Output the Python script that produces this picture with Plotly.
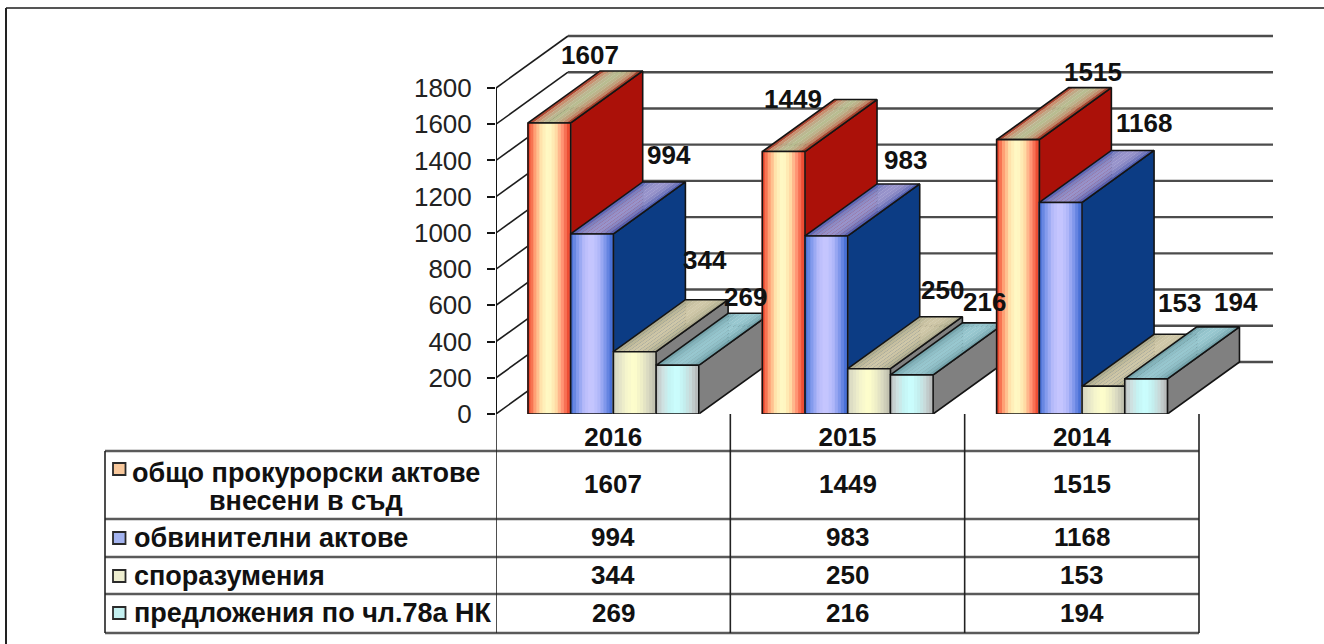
import plotly.graph_objects as go
from plotly.colors import sample_colorscale

W, H = 1324, 644

years = ["2016", "2015", "2014"]
series_names = [
    "общо прокурорски актове<br>внесени в съд",
    "обвинителни актове",
    "споразумения",
    "предложения по чл.78а НК",
]
obshto = [1607, 1449, 1515]
obvinitelni = [994, 983, 1168]
sporazumenia = [344, 250, 153]
predlozhenia = [269, 216, 194]
series_values = [obshto, obvinitelni, sporazumenia, predlozhenia]
y_ticks = [0, 200, 400, 600, 800, 1000, 1200, 1400, 1600, 1800]

# front plane in pixels, axes run on past it so the 3d depth is not clipped
LEFT, RIGHT, BOTTOM, TOP = 496, 1199, 414, 88
X_UNIT = (RIGHT - LEFT) / 3
Y_UNIT = (BOTTOM - TOP) / 1800
DEPTH_X = 72 / X_UNIT
DEPTH_Y = 52 / Y_UNIT
GAP = 32 / X_UNIT
BAR_W = 42.7 / X_UNIT
GRID_END = (1273 - LEFT) / X_UNIT
X_MAX = 3.4
Y_MAX = 2200

front_stops = [
    ["#e8301c", "#ff9a70", "#ffe8b0", "#fffcc8", "#ffe0a8", "#ff8e70", "#e83c24"],
    ["#3c68d0", "#8098ec", "#b8bcfa", "#c8c8ff", "#b4bafa", "#7c94ea", "#3c68d0"],
    ["#d0d0bc", "#e4e4c8", "#f6f6cc", "#ffffcc", "#f0f0c8", "#d8d8c0", "#bcbcac"],
    ["#b8b8b8", "#cfe0e0", "#c4f4f4", "#ccffff", "#c4f0f0", "#c8d8d8", "#b4b4b4"],
]
top_stops = [
    ["#a02414", "#c89070", "#bcb490", "#b8bc90", "#bcb088", "#c08868", "#94200f"],
    ["#4c5cb4", "#7c80c0", "#9490c8", "#9894cc", "#9490c8", "#7478bc", "#4454ac"],
    ["#a8a488", "#bcb898", "#ccc4a4", "#d0c8a8", "#ccc4a4", "#bcb898", "#a8a488"],
    ["#6c9ca4", "#84b4bc", "#94c4cc", "#98c8d0", "#94c4cc", "#84b4bc", "#6c9ca4"],
]
side_colors = ["#ab1109", "#0c3c84", "#808080", "#808080"]
key_colors = ["#f8c89c", "#a4b4f0", "#eeeed0", "#c4f0f0"]

# pixel offsets of the value labels from the bar's top left corner
label_dx = [[62, 98, 92, 89], [31, 100, 95, 94], [96, 105, 97, 111]]
label_dy = [[68, 79, 92, 68], [53, 76, 79, 73], [68, 79, 83, 77]]

FRONT_STRIPS = 14
TOP_STRIPS = 9
EDGE = "#141414"
LABEL_FONT = dict(family="Liberation Sans", size=26, color="#111111", weight="bold")
NAME_FONT = dict(family="Liberation Sans", size=27, color="#111111", weight="bold")


def strip_colors(stops, n):
    scale = [[i / (len(stops) - 1), c] for i, c in enumerate(stops)]
    return sample_colorscale(scale, [(i + 0.5) / n for i in range(n)])


def px_x(v):
    return v / W


def px_y(v):
    return 1 - v / H


def poly(xs, ys, color=None, line=None, z=0):
    fig.add_trace(go.Scatter(
        x=xs, y=ys, mode="lines", fill="toself" if color else None,
        fillcolor=color,
        line=dict(color=line or "rgba(0,0,0,0)", width=1.6 if line else 0),
        hoverinfo="skip", zorder=z,
    ))


fig = go.Figure()

# back wall gridlines with the diagonals on the side wall
for tick in y_ticks:
    fig.add_trace(go.Scatter(
        x=[0, DEPTH_X], y=[tick, tick + DEPTH_Y], mode="lines",
        line=dict(color="#1c1c1c", width=1.6),
        cliponaxis=False, hoverinfo="skip",
    ))
    fig.add_trace(go.Scatter(
        x=[DEPTH_X, GRID_END], y=[tick + DEPTH_Y, tick + DEPTH_Y], mode="lines",
        line=dict(color="#4c4c4c", width=2.4),
        cliponaxis=False, hoverinfo="skip",
    ))

for c, year in enumerate(years):
    for s, values in enumerate(series_values):
        v = values[c]
        x0 = c + GAP + s * BAR_W
        x1 = x0 + BAR_W
        z = 10 + (c * 4 + s) * 2

        # side face
        poly([x1, x1 + DEPTH_X, x1 + DEPTH_X, x1, x1],
             [v, v + DEPTH_Y, DEPTH_Y, 0, v], side_colors[s], EDGE, z)

        # top face, one strip per gradient step
        top_cols = strip_colors(top_stops[s], TOP_STRIPS)
        step = BAR_W / TOP_STRIPS
        for i, col in enumerate(top_cols):
            a = x0 + i * step
            b = a + step * 1.05
            poly([a, b, b + DEPTH_X, a + DEPTH_X, a],
                 [v, v, v + DEPTH_Y, v + DEPTH_Y, v], col, None, z)
        poly([x0, x1, x1 + DEPTH_X, x0 + DEPTH_X, x0],
             [v, v, v + DEPTH_Y, v + DEPTH_Y, v], None, EDGE, z)

        # front face, thin bars give the gradient
        step = BAR_W / FRONT_STRIPS
        fig.add_trace(go.Bar(
            x=[x0 + (i + 0.5) * step for i in range(FRONT_STRIPS)],
            y=[v] * FRONT_STRIPS,
            width=step * 1.5,
            marker=dict(color=strip_colors(front_stops[s], FRONT_STRIPS), line_width=0),
            hoverinfo="skip", zorder=z + 1,
        ))
        fig.add_trace(go.Bar(
            x=[x0 + BAR_W / 2], y=[v], width=BAR_W,
            marker=dict(color="rgba(0,0,0,0)", line=dict(color=EDGE, width=1.6)),
            hoverinfo="skip", zorder=z + 1,
        ))

        fig.add_annotation(
            x=x0, y=v, xref="x", yref="y", text=str(v), showarrow=False,
            xshift=label_dx[c][s], yshift=label_dy[c][s], font=LABEL_FONT,
        )

shapes = []


def add_line(x0, y0, x1, y1, color="#5a5a5a", width=2.4, xref="paper"):
    shapes.append(dict(type="line", xref=xref, yref="paper", x0=x0, x1=x1,
                       y0=px_y(y0), y1=px_y(y1), line=dict(color=color, width=width)))


# value axis line, stops at the last tick
shapes.append(dict(type="line", xref="x", yref="y", x0=0, x1=0, y0=0, y1=y_ticks[-1],
                   line=dict(color="#141414", width=2)))

# outer frame
add_line(px_x(6), 8, px_x(1324), 8, "#555555", 2)
add_line(px_x(6), 8, px_x(6), 644, "#222222", 2)

# data table grid
row_lines = [451, 519, 557, 594, 633]
for ry in row_lines:
    add_line(px_x(105), ry, px_x(RIGHT), ry)
add_line(px_x(105), 451, px_x(105), 633, "#222222", 1.6)
for i in range(4):
    add_line(i, 414, i, 633, "#222222", 1.6, xref="x")

row_centers = [484, 537, 575, 613]
name_centers = [[473, 501], [538], [576], [613]]
key_centers = [469, 538, 576, 613]
for s, name in enumerate(series_names):
    # the first name has two lines, set closer than a plotly line break would
    for part, cy in zip(name.split("<br>"), name_centers[s]):
        fig.add_annotation(
            x=px_x(306 if s == 0 else 132), y=px_y(cy), xref="paper", yref="paper",
            text=part, showarrow=False, align="center" if s == 0 else "left",
            xanchor="center" if s == 0 else "left", yanchor="middle", font=NAME_FONT,
        )
    shapes.append(dict(
        type="rect", xref="paper", yref="paper",
        x0=px_x(113), x1=px_x(125.5),
        y0=px_y(key_centers[s] + 6), y1=px_y(key_centers[s] - 6),
        fillcolor=key_colors[s], line=dict(color="#2a2a2a", width=1.8),
    ))
    for c in range(3):
        fig.add_annotation(
            x=c + 0.5, y=px_y(row_centers[s]), xref="x", yref="paper",
            text=str(series_values[s][c]), showarrow=False, yanchor="middle", font=LABEL_FONT,
        )

fig.update_layout(
    width=W, height=H, autosize=False,
    margin=dict(l=0, r=0, t=0, b=0),
    paper_bgcolor="white", plot_bgcolor="rgba(0,0,0,0)",
    showlegend=False, barmode="overlay",
    font=dict(family="Liberation Sans", color="#111111"),
    shapes=shapes,
    xaxis=dict(
        domain=[LEFT / W, (LEFT + X_MAX * X_UNIT) / W], range=[0, X_MAX], automargin=False,
        showgrid=False, zeroline=False, showline=False,
        tickvals=[0.5, 1.5, 2.5], ticktext=years, ticks="",
        ticklabelstandoff=5, fixedrange=True, tickfont=LABEL_FONT,
    ),
    yaxis=dict(
        domain=[1 - BOTTOM / H, 1 - (BOTTOM - Y_MAX * Y_UNIT) / H], range=[0, Y_MAX],
        automargin=False, showgrid=False, zeroline=False, showline=False,
        tickvals=y_ticks, ticks="outside", ticklen=8, tickcolor="#141414", tickwidth=1.6,
        ticklabelstandoff=10, fixedrange=True,
        tickfont=dict(family="Liberation Sans", size=26, color="#222222"),
    ),
)

fig.write_html("out.html", config={"displayModeBar": False},
               post_script="document.body.style.margin='0';")
